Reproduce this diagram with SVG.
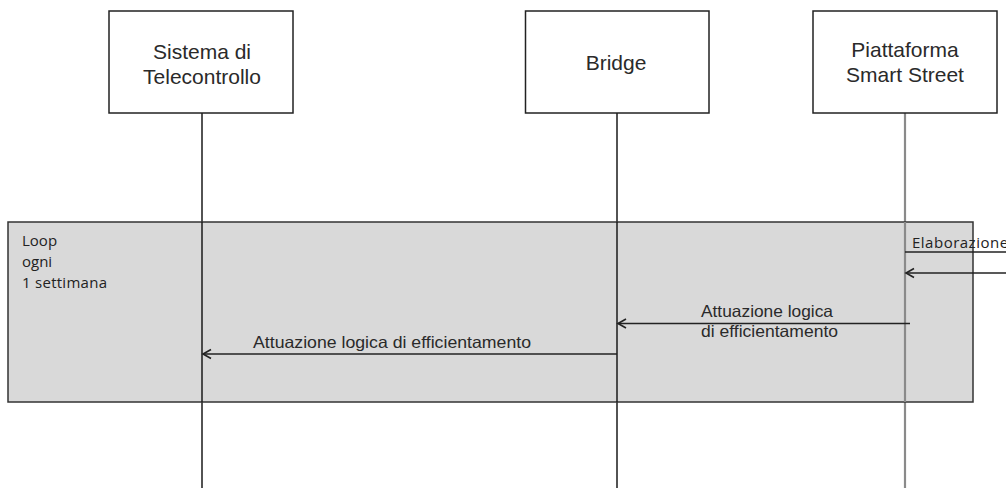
<svg xmlns="http://www.w3.org/2000/svg" width="1006" height="488" viewBox="0 0 1006 488">
  <style>
    .box { fill: #ffffff; stroke: #222222; stroke-width: 1.5; }
    .title { font-family: "Liberation Sans", Arial, sans-serif; font-size: 21px; fill: #2a2a2a; text-anchor: middle; }
    .life { stroke: #1a1a1a; stroke-width: 1.5; fill: none; }
    .life-gray { stroke: #8a8a8a; stroke-width: 2.2; fill: none; }
    .frame { fill: #d9d9d9; stroke: #333333; stroke-width: 1.5; }
    .frame-label { font-family: "Open Sans", "Noto Sans", sans-serif; font-size: 15px; fill: #222222; }
    .msg { stroke: #222222; stroke-width: 1.6; fill: none; marker-end: url(#open-arrow); }
    .msg-label { font-family: "Liberation Sans", Arial, sans-serif; font-size: 16.5px; fill: #2a2a2a; }
  </style>
  <defs>
    <!-- open chevron head; its tip sits on the end of the message line -->
    <marker id="open-arrow" markerWidth="12" markerHeight="12" refX="10" refY="6" orient="auto" markerUnits="userSpaceOnUse">
      <path d="M2,1.5 L10,6 L2,10.5" fill="none" stroke="#222222" stroke-width="1.6"/>
    </marker>
  </defs>

  <rect x="0" y="0" width="1006" height="488" fill="#ffffff"/>

  <!-- lifelines (drawn first, the loop frame sits on top of them) -->
  <g id="lifelines">
    <line class="life" x1="202" y1="113" x2="202" y2="488"/>
    <line class="life" x1="617" y1="113" x2="617" y2="488"/>
    <line class="life-gray" x1="905" y1="113" x2="905" y2="488"/>
  </g>

  <!-- loop fragment -->
  <g id="loop">
    <rect class="frame" x="8" y="222" width="965" height="180"/>
    <text class="frame-label" x="22" y="246">Loop</text>
    <text class="frame-label" x="22" y="267">ogni</text>
    <text class="frame-label" x="22" y="288" textLength="85" lengthAdjust="spacing">1 settimana</text>
  </g>

  <!-- lifeline segments inside the loop frame -->
  <g id="lifelines-inner">
    <line class="life" x1="202" y1="222" x2="202" y2="402"/>
    <line class="life" x1="617" y1="222" x2="617" y2="402"/>
    <line class="life-gray" x1="905" y1="222" x2="905" y2="402"/>
  </g>

  <!-- participants -->
  <g id="sistema-telecontrollo">
    <rect class="box" x="109" y="11" width="184" height="102"/>
    <text class="title" x="202" y="58.5">Sistema di</text>
    <text class="title" x="202" y="84">Telecontrollo</text>
  </g>
  <g id="bridge">
    <rect class="box" x="525.5" y="11" width="183.5" height="102"/>
    <text class="title" x="616" y="70">Bridge</text>
  </g>
  <g id="piattaforma-smart-street">
    <rect class="box" x="813" y="11" width="184" height="102"/>
    <text class="title" x="905" y="57">Piattaforma</text>
    <text class="title" x="905" y="82">Smart Street</text>
  </g>

  <!-- messages -->
  <g id="connectors">
    <!-- incoming Elaborazione -->
    <line x1="905" y1="252" x2="1006" y2="252" stroke="#222222" stroke-width="1.6"/>
    <text class="frame-label" x="912" y="248" font-size="14" letter-spacing="0.5">Elaborazione</text>
    <line class="msg" x1="1006" y1="273" x2="906" y2="273"/>

    <!-- Piattaforma to Bridge -->
    <line class="msg" x1="910" y1="323.5" x2="618" y2="323.5"/>
    <text class="msg-label" x="701" y="316.5" textLength="132" lengthAdjust="spacingAndGlyphs">Attuazione logica</text>
    <text class="msg-label" x="701" y="337" textLength="137" lengthAdjust="spacingAndGlyphs">di efficientamento</text>

    <!-- Bridge to Sistema di Telecontrollo -->
    <line class="msg" x1="617" y1="354" x2="203" y2="354"/>
    <text class="msg-label" x="253" y="347.5" textLength="278" lengthAdjust="spacingAndGlyphs">Attuazione logica di efficientamento</text>
  </g>
</svg>
